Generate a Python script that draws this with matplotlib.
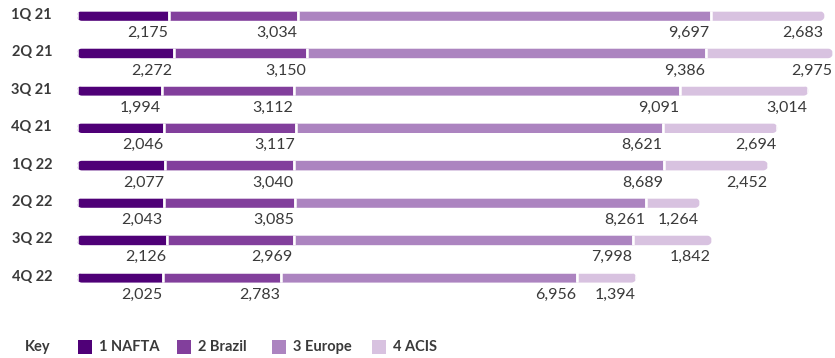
import numpy as np
import matplotlib.pyplot as plt
from matplotlib.patches import Rectangle
from matplotlib.path import Path

quarters = ["1Q 21", "2Q 21", "3Q 21", "4Q 21", "1Q 22", "2Q 22", "3Q 22", "4Q 22"]
regions = ["1 NAFTA", "2 Brazil", "3 Europe", "4 ACIS"]
nafta = [2175, 2272, 1994, 2046, 2077, 2043, 2126, 2025]
brazil = [3034, 3150, 3112, 3117, 3040, 3085, 2969, 2783]
europe = [9697, 9386, 9091, 8621, 8689, 8261, 7998, 6956]
acis = [2683, 2975, 3014, 2694, 2452, 1264, 1842, 1394]
colors = ["#4f0077", "#823f9c", "#ac84c0", "#d8c2e0"]

plt.rcParams["font.family"] = ["Lato", "DejaVu Sans"]
text_col = "#3a3a3a"

W, H = 835, 358
px_per_unit = 0.0425
row_px = 37.4
fig = plt.figure(figsize=(W / 100, H / 100), dpi=100)
ax = fig.add_axes([77 / W, 1 - 300 / H, 1 - 77 / W, 300 / H])
ax.set_xlim(0, (W - 77) / px_per_unit)
ax.set_ylim(7.594, -0.428)
ax.axis("off")

series = [nafta, brazil, europe, acis]
totals = [sum(v) for v in zip(*series)]

bar_h = 0.33
vis_h = bar_h - 2.4 / row_px
rad_px = 4.8
rx = rad_px / px_per_unit
ry = rad_px / row_px


def pill(x0, x1, yc):
    # rounded-cap outline in data units, used as clip path for one bar
    t = np.linspace(np.pi / 2, -np.pi / 2, 20)
    dy = np.clip(np.sin(t) * ry, -vis_h / 2, vis_h / 2)
    right = np.column_stack([x1 - rx + rx * np.cos(t), yc + dy])
    left = np.column_stack([x0 + rx - rx * np.cos(t), yc - dy])
    return Path(np.vstack([right, left, right[:1]]), closed=True)


left = [0] * len(quarters)
for vals, col in zip(series, colors):
    bars = ax.barh(range(len(quarters)), vals, left=left, height=bar_h, color=col,
                   edgecolor="white", linewidth=1.8)
    for i, (b, v) in enumerate(zip(bars, vals)):
        b.set_clip_path(pill(0, totals[i], i), ax.transData)
        end = left[i] + v
        ax.annotate(f"{v:,}", (end, i), xytext=(-1, -17), textcoords="offset pixels",
                    ha="right", va="center", fontsize=11.5, color=text_col,
                    annotation_clip=False)
    left = [l + v for l, v in zip(left, vals)]

for i, q in enumerate(quarters):
    ax.annotate(q, (0, i), xytext=(-25, 1), textcoords="offset pixels",
                ha="right", va="center", fontsize=10.5, fontweight="bold", color=text_col,
                annotation_clip=False)

# legend
ly = 1 - 347 / H
fig.text(25 / W, ly, "Key", ha="left", va="center", fontsize=10.5, fontweight="bold", color=text_col)
sq_x = [78, 177, 272, 372]
for x, lab, col in zip(sq_x, regions, colors):
    fig.patches.append(Rectangle((x / W, ly - 7 / H), 14 / W, 14 / H, transform=fig.transFigure,
                                 facecolor=col, edgecolor="none"))
    fig.text((x + 21) / W, ly, lab, ha="left", va="center", fontsize=10.5,
             fontweight="bold", color=text_col)

fig.savefig("out.png", dpi=100)
